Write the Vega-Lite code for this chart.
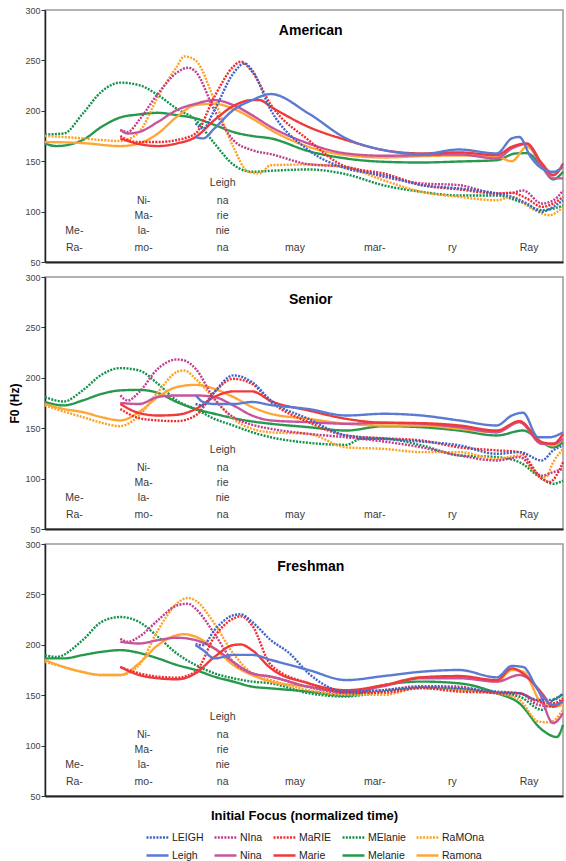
{
  "$schema": "https://vega.github.io/schema/vega-lite/v6.json",
  "padding": {"left": 8, "top": 5, "right": 0, "bottom": 0},
  "config": {
    "font": "Liberation Sans",
    "view": {"stroke": "#999", "strokeWidth": 1.5},
    "axis": {"grid": false}
  },
  "datasets": {
    "bounds": [{"t": 1}, {"t": 2}, {"t": 3}, {"t": 4}, {"t": 5}, {"t": 6}],
    "titles": [{"panel": "American", "t": 3.53, "f0": 279}, {"panel": "Senior", "t": 3.53, "f0": 277}, {"panel": "Freshman", "t": 3.53, "f0": 277}],
    "syl": [
      {"t": 0.39, "f0": 80.5, "text": "Me-"}, {"t": 0.39, "f0": 64, "text": "Ra-"},
      {"t": 1.31, "f0": 110.7, "text": "Ni-"}, {"t": 1.31, "f0": 95.3, "text": "Ma-"}, {"t": 1.31, "f0": 80.5, "text": "la-"}, {"t": 1.31, "f0": 64, "text": "mo-"},
      {"t": 2.36, "f0": 128, "text": "Leigh"}, {"t": 2.36, "f0": 110.7, "text": "na"}, {"t": 2.36, "f0": 95.3, "text": "rie"}, {"t": 2.36, "f0": 80.5, "text": "nie"}, {"t": 2.36, "f0": 64, "text": "na"},
      {"t": 3.32, "f0": 64, "text": "may"}, {"t": 4.38, "f0": 64, "text": "mar-"}, {"t": 5.41, "f0": 64, "text": "ry"}, {"t": 6.43, "f0": 64, "text": "Ray"}
    ],
    "f0": [
      {"panel":"American","word":"MElanie","t":0,"f0":176.5},{"panel":"American","word":"MElanie","t":0.25,"f0":177.5},{"panel":"American","word":"MElanie","t":0.5,"f0":197},{"panel":"American","word":"MElanie","t":0.75,"f0":219},{"panel":"American","word":"MElanie","t":1,"f0":228},{"panel":"American","word":"MElanie","t":1.25,"f0":225.5},{"panel":"American","word":"MElanie","t":1.5,"f0":215.6},{"panel":"American","word":"MElanie","t":1.75,"f0":202},{"panel":"American","word":"MElanie","t":2,"f0":191},{"panel":"American","word":"MElanie","t":2.25,"f0":167.6},{"panel":"American","word":"MElanie","t":2.5,"f0":146.7},{"panel":"American","word":"MElanie","t":2.75,"f0":139.5},{"panel":"American","word":"MElanie","t":3,"f0":140.5},{"panel":"American","word":"MElanie","t":3.5,"f0":141.8},{"panel":"American","word":"MElanie","t":4,"f0":137},{"panel":"American","word":"MElanie","t":4.5,"f0":126},{"panel":"American","word":"MElanie","t":5,"f0":119.6},{"panel":"American","word":"MElanie","t":5.5,"f0":116},{"panel":"American","word":"MElanie","t":6,"f0":116},{"panel":"American","word":"MElanie","t":6.3,"f0":110},{"panel":"American","word":"MElanie","t":6.6,"f0":101.5},{"panel":"American","word":"MElanie","t":6.8,"f0":104},{"panel":"American","word":"MElanie","t":6.88,"f0":106},
      {"panel":"American","word":"Melanie","t":0,"f0":167.6},{"panel":"American","word":"Melanie","t":0.15,"f0":165},{"panel":"American","word":"Melanie","t":0.5,"f0":171},{"panel":"American","word":"Melanie","t":0.75,"f0":184},{"panel":"American","word":"Melanie","t":1,"f0":193.4},{"panel":"American","word":"Melanie","t":1.25,"f0":196.4},{"panel":"American","word":"Melanie","t":1.5,"f0":198},{"panel":"American","word":"Melanie","t":1.75,"f0":195.7},{"panel":"American","word":"Melanie","t":2,"f0":192.5},{"panel":"American","word":"Melanie","t":2.25,"f0":186},{"panel":"American","word":"Melanie","t":2.5,"f0":179},{"panel":"American","word":"Melanie","t":2.75,"f0":175},{"panel":"American","word":"Melanie","t":3,"f0":172.6},{"panel":"American","word":"Melanie","t":3.5,"f0":160},{"panel":"American","word":"Melanie","t":4,"f0":152.7},{"panel":"American","word":"Melanie","t":4.5,"f0":149.4},{"panel":"American","word":"Melanie","t":5,"f0":148.7},{"panel":"American","word":"Melanie","t":5.5,"f0":149.7},{"panel":"American","word":"Melanie","t":6,"f0":151},{"panel":"American","word":"Melanie","t":6.25,"f0":157.7},{"panel":"American","word":"Melanie","t":6.4,"f0":158},{"panel":"American","word":"Melanie","t":6.6,"f0":144.4},{"panel":"American","word":"Melanie","t":6.75,"f0":132},{"panel":"American","word":"Melanie","t":6.88,"f0":139.5},
      {"panel":"American","word":"RaMOna","t":0,"f0":175},{"panel":"American","word":"RaMOna","t":0.25,"f0":174},{"panel":"American","word":"RaMOna","t":0.5,"f0":172.6},{"panel":"American","word":"RaMOna","t":0.75,"f0":171},{"panel":"American","word":"RaMOna","t":1,"f0":170},{"panel":"American","word":"RaMOna","t":1.25,"f0":179},{"panel":"American","word":"RaMOna","t":1.5,"f0":214},{"panel":"American","word":"RaMOna","t":1.75,"f0":243.7},{"panel":"American","word":"RaMOna","t":1.85,"f0":254},{"panel":"American","word":"RaMOna","t":2,"f0":250},{"panel":"American","word":"RaMOna","t":2.25,"f0":210.6},{"panel":"American","word":"RaMOna","t":2.5,"f0":164.3},{"panel":"American","word":"RaMOna","t":2.7,"f0":139.5},{"panel":"American","word":"RaMOna","t":2.85,"f0":138},{"panel":"American","word":"RaMOna","t":3,"f0":146},{"panel":"American","word":"RaMOna","t":3.5,"f0":146.7},{"panel":"American","word":"RaMOna","t":4,"f0":143.8},{"panel":"American","word":"RaMOna","t":4.5,"f0":131},{"panel":"American","word":"RaMOna","t":5,"f0":119.6},{"panel":"American","word":"RaMOna","t":5.5,"f0":114.6},{"panel":"American","word":"RaMOna","t":6,"f0":111.3},{"panel":"American","word":"RaMOna","t":6.2,"f0":114.6},{"panel":"American","word":"RaMOna","t":6.5,"f0":101.5},{"panel":"American","word":"RaMOna","t":6.7,"f0":96.4},{"panel":"American","word":"RaMOna","t":6.88,"f0":104.7},
      {"panel":"American","word":"Ramona","t":0,"f0":169},{"panel":"American","word":"Ramona","t":0.5,"f0":168},{"panel":"American","word":"Ramona","t":1,"f0":165},{"panel":"American","word":"Ramona","t":1.25,"f0":167.6},{"panel":"American","word":"Ramona","t":1.5,"f0":177.5},{"panel":"American","word":"Ramona","t":1.75,"f0":194},{"panel":"American","word":"Ramona","t":2,"f0":205.7},{"panel":"American","word":"Ramona","t":2.25,"f0":207},{"panel":"American","word":"Ramona","t":2.5,"f0":202},{"panel":"American","word":"Ramona","t":2.75,"f0":192.5},{"panel":"American","word":"Ramona","t":3,"f0":181},{"panel":"American","word":"Ramona","t":3.5,"f0":164.3},{"panel":"American","word":"Ramona","t":4,"f0":156},{"panel":"American","word":"Ramona","t":4.5,"f0":153.7},{"panel":"American","word":"Ramona","t":5,"f0":155},{"panel":"American","word":"Ramona","t":5.5,"f0":155.7},{"panel":"American","word":"Ramona","t":6,"f0":154.4},{"panel":"American","word":"Ramona","t":6.2,"f0":150},{"panel":"American","word":"Ramona","t":6.4,"f0":164.3},{"panel":"American","word":"Ramona","t":6.6,"f0":147.7},{"panel":"American","word":"Ramona","t":6.75,"f0":137.8},{"panel":"American","word":"Ramona","t":6.88,"f0":144.4},
      {"panel":"American","word":"NIna","t":1,"f0":181},{"panel":"American","word":"NIna","t":1.1,"f0":179},{"panel":"American","word":"NIna","t":1.25,"f0":190.8},{"panel":"American","word":"NIna","t":1.5,"f0":217},{"panel":"American","word":"NIna","t":1.75,"f0":237.8},{"panel":"American","word":"NIna","t":1.9,"f0":242.7},{"panel":"American","word":"NIna","t":2,"f0":238.8},{"panel":"American","word":"NIna","t":2.25,"f0":200.7},{"panel":"American","word":"NIna","t":2.5,"f0":171},{"panel":"American","word":"NIna","t":2.75,"f0":161},{"panel":"American","word":"NIna","t":3,"f0":157},{"panel":"American","word":"NIna","t":3.5,"f0":147},{"panel":"American","word":"NIna","t":4,"f0":144.4},{"panel":"American","word":"NIna","t":4.5,"f0":134.5},{"panel":"American","word":"NIna","t":5,"f0":128},{"panel":"American","word":"NIna","t":5.5,"f0":126.3},{"panel":"American","word":"NIna","t":6,"f0":118},{"panel":"American","word":"NIna","t":6.2,"f0":118.6},{"panel":"American","word":"NIna","t":6.35,"f0":121},{"panel":"American","word":"NIna","t":6.6,"f0":108},{"panel":"American","word":"NIna","t":6.75,"f0":111},{"panel":"American","word":"NIna","t":6.88,"f0":121},
      {"panel":"American","word":"Nina","t":1,"f0":181},{"panel":"American","word":"Nina","t":1.1,"f0":177.5},{"panel":"American","word":"Nina","t":1.25,"f0":179},{"panel":"American","word":"Nina","t":1.5,"f0":189},{"panel":"American","word":"Nina","t":1.75,"f0":200.7},{"panel":"American","word":"Nina","t":2,"f0":207},{"panel":"American","word":"Nina","t":2.25,"f0":210.6},{"panel":"American","word":"Nina","t":2.5,"f0":205.7},{"panel":"American","word":"Nina","t":2.75,"f0":195.7},{"panel":"American","word":"Nina","t":3,"f0":184},{"panel":"American","word":"Nina","t":3.5,"f0":167.6},{"panel":"American","word":"Nina","t":4,"f0":157.7},{"panel":"American","word":"Nina","t":4.5,"f0":155.4},{"panel":"American","word":"Nina","t":5,"f0":156},{"panel":"American","word":"Nina","t":5.5,"f0":156.7},{"panel":"American","word":"Nina","t":6,"f0":152.7},{"panel":"American","word":"Nina","t":6.2,"f0":162.6},{"panel":"American","word":"Nina","t":6.4,"f0":167},{"panel":"American","word":"Nina","t":6.6,"f0":144.4},{"panel":"American","word":"Nina","t":6.75,"f0":133},{"panel":"American","word":"Nina","t":6.88,"f0":133},
      {"panel":"American","word":"MaRIE","t":1,"f0":175},{"panel":"American","word":"MaRIE","t":1.1,"f0":171},{"panel":"American","word":"MaRIE","t":1.25,"f0":169},{"panel":"American","word":"MaRIE","t":1.5,"f0":169},{"panel":"American","word":"MaRIE","t":1.75,"f0":171},{"panel":"American","word":"MaRIE","t":2,"f0":177.5},{"panel":"American","word":"MaRIE","t":2.25,"f0":214},{"panel":"American","word":"MaRIE","t":2.5,"f0":243.7},{"panel":"American","word":"MaRIE","t":2.6,"f0":248.7},{"panel":"American","word":"MaRIE","t":2.75,"f0":238.8},{"panel":"American","word":"MaRIE","t":3,"f0":206},{"panel":"American","word":"MaRIE","t":3.5,"f0":171},{"panel":"American","word":"MaRIE","t":4,"f0":144.4},{"panel":"American","word":"MaRIE","t":4.5,"f0":137.8},{"panel":"American","word":"MaRIE","t":5,"f0":126.3},{"panel":"American","word":"MaRIE","t":5.5,"f0":122},{"panel":"American","word":"MaRIE","t":6,"f0":118},{"panel":"American","word":"MaRIE","t":6.2,"f0":118.6},{"panel":"American","word":"MaRIE","t":6.4,"f0":113},{"panel":"American","word":"MaRIE","t":6.6,"f0":104.7},{"panel":"American","word":"MaRIE","t":6.75,"f0":108},{"panel":"American","word":"MaRIE","t":6.88,"f0":114.6},
      {"panel":"American","word":"Marie","t":1,"f0":172.6},{"panel":"American","word":"Marie","t":1.25,"f0":167},{"panel":"American","word":"Marie","t":1.5,"f0":165},{"panel":"American","word":"Marie","t":1.75,"f0":167.6},{"panel":"American","word":"Marie","t":2,"f0":174},{"panel":"American","word":"Marie","t":2.25,"f0":190.8},{"panel":"American","word":"Marie","t":2.5,"f0":204.7},{"panel":"American","word":"Marie","t":2.75,"f0":210.6},{"panel":"American","word":"Marie","t":2.85,"f0":210.6},{"panel":"American","word":"Marie","t":3,"f0":204},{"panel":"American","word":"Marie","t":3.5,"f0":184},{"panel":"American","word":"Marie","t":4,"f0":171},{"panel":"American","word":"Marie","t":4.5,"f0":161},{"panel":"American","word":"Marie","t":5,"f0":157.7},{"panel":"American","word":"Marie","t":5.5,"f0":158.7},{"panel":"American","word":"Marie","t":6,"f0":156},{"panel":"American","word":"Marie","t":6.2,"f0":164.3},{"panel":"American","word":"Marie","t":6.4,"f0":167.6},{"panel":"American","word":"Marie","t":6.6,"f0":147.7},{"panel":"American","word":"Marie","t":6.75,"f0":136},{"panel":"American","word":"Marie","t":6.88,"f0":147.7},
      {"panel":"American","word":"LEIGH","t":2,"f0":187.5},{"panel":"American","word":"LEIGH","t":2.1,"f0":182.5},{"panel":"American","word":"LEIGH","t":2.25,"f0":200.7},{"panel":"American","word":"LEIGH","t":2.5,"f0":237},{"panel":"American","word":"LEIGH","t":2.65,"f0":247},{"panel":"American","word":"LEIGH","t":2.75,"f0":240.4},{"panel":"American","word":"LEIGH","t":3,"f0":200.7},{"panel":"American","word":"LEIGH","t":3.5,"f0":161},{"panel":"American","word":"LEIGH","t":4,"f0":142.8},{"panel":"American","word":"LEIGH","t":4.5,"f0":136},{"panel":"American","word":"LEIGH","t":5,"f0":126.3},{"panel":"American","word":"LEIGH","t":5.5,"f0":123},{"panel":"American","word":"LEIGH","t":6,"f0":118},{"panel":"American","word":"LEIGH","t":6.2,"f0":114.6},{"panel":"American","word":"LEIGH","t":6.4,"f0":108},{"panel":"American","word":"LEIGH","t":6.6,"f0":99.8},{"panel":"American","word":"LEIGH","t":6.75,"f0":104.7},{"panel":"American","word":"LEIGH","t":6.88,"f0":111.3},
      {"panel":"American","word":"Leigh","t":2,"f0":174},{"panel":"American","word":"Leigh","t":2.1,"f0":172.6},{"panel":"American","word":"Leigh","t":2.25,"f0":182.5},{"panel":"American","word":"Leigh","t":2.5,"f0":200.7},{"panel":"American","word":"Leigh","t":2.75,"f0":210.6},{"panel":"American","word":"Leigh","t":3,"f0":216.6},{"panel":"American","word":"Leigh","t":3.5,"f0":197.4},{"panel":"American","word":"Leigh","t":4,"f0":172.6},{"panel":"American","word":"Leigh","t":4.5,"f0":161},{"panel":"American","word":"Leigh","t":5,"f0":157},{"panel":"American","word":"Leigh","t":5.5,"f0":161.6},{"panel":"American","word":"Leigh","t":6,"f0":157.7},{"panel":"American","word":"Leigh","t":6.2,"f0":172.6},{"panel":"American","word":"Leigh","t":6.3,"f0":174},{"panel":"American","word":"Leigh","t":6.45,"f0":154.4},{"panel":"American","word":"Leigh","t":6.6,"f0":142.8},{"panel":"American","word":"Leigh","t":6.75,"f0":139.5},{"panel":"American","word":"Leigh","t":6.88,"f0":144.4},

      {"panel":"Senior","word":"MElanie","t":0,"f0":180.8},{"panel":"Senior","word":"MElanie","t":0.25,"f0":176.5},{"panel":"Senior","word":"MElanie","t":0.5,"f0":187.5},{"panel":"Senior","word":"MElanie","t":0.75,"f0":203},{"panel":"Senior","word":"MElanie","t":1,"f0":209.6},{"panel":"Senior","word":"MElanie","t":1.25,"f0":207.3},{"panel":"Senior","word":"MElanie","t":1.5,"f0":194},{"panel":"Senior","word":"MElanie","t":1.75,"f0":177.5},{"panel":"Senior","word":"MElanie","t":2,"f0":169},{"panel":"Senior","word":"MElanie","t":2.25,"f0":159.3},{"panel":"Senior","word":"MElanie","t":2.5,"f0":152.7},{"panel":"Senior","word":"MElanie","t":2.75,"f0":146},{"panel":"Senior","word":"MElanie","t":3,"f0":141},{"panel":"Senior","word":"MElanie","t":3.5,"f0":135.5},{"panel":"Senior","word":"MElanie","t":4,"f0":133.5},{"panel":"Senior","word":"MElanie","t":4.2,"f0":139.5},{"panel":"Senior","word":"MElanie","t":4.5,"f0":139.5},{"panel":"Senior","word":"MElanie","t":5,"f0":133},{"panel":"Senior","word":"MElanie","t":5.5,"f0":123},{"panel":"Senior","word":"MElanie","t":6,"f0":121.3},{"panel":"Senior","word":"MElanie","t":6.3,"f0":116.3},{"panel":"Senior","word":"MElanie","t":6.6,"f0":100},{"panel":"Senior","word":"MElanie","t":6.75,"f0":94.8},{"panel":"Senior","word":"MElanie","t":6.88,"f0":98},
      {"panel":"Senior","word":"Melanie","t":0,"f0":176},{"panel":"Senior","word":"Melanie","t":0.25,"f0":172.6},{"panel":"Senior","word":"Melanie","t":0.5,"f0":177.5},{"panel":"Senior","word":"Melanie","t":0.75,"f0":184},{"panel":"Senior","word":"Melanie","t":1,"f0":187.5},{"panel":"Senior","word":"Melanie","t":1.25,"f0":188},{"panel":"Senior","word":"Melanie","t":1.5,"f0":185},{"panel":"Senior","word":"Melanie","t":1.75,"f0":176},{"panel":"Senior","word":"Melanie","t":2,"f0":169},{"panel":"Senior","word":"Melanie","t":2.25,"f0":164.3},{"panel":"Senior","word":"Melanie","t":2.5,"f0":160},{"panel":"Senior","word":"Melanie","t":2.75,"f0":156.7},{"panel":"Senior","word":"Melanie","t":3,"f0":154.4},{"panel":"Senior","word":"Melanie","t":3.5,"f0":151},{"panel":"Senior","word":"Melanie","t":4,"f0":147.7},{"panel":"Senior","word":"Melanie","t":4.5,"f0":152},{"panel":"Senior","word":"Melanie","t":5,"f0":151},{"panel":"Senior","word":"Melanie","t":5.5,"f0":147.7},{"panel":"Senior","word":"Melanie","t":6,"f0":142.8},{"panel":"Senior","word":"Melanie","t":6.35,"f0":147.7},{"panel":"Senior","word":"Melanie","t":6.6,"f0":136},{"panel":"Senior","word":"Melanie","t":6.75,"f0":131},{"panel":"Senior","word":"Melanie","t":6.88,"f0":136},
      {"panel":"Senior","word":"RaMOna","t":0,"f0":172.6},{"panel":"Senior","word":"RaMOna","t":0.25,"f0":166.6},{"panel":"Senior","word":"RaMOna","t":0.5,"f0":161},{"panel":"Senior","word":"RaMOna","t":0.75,"f0":155.4},{"panel":"Senior","word":"RaMOna","t":1,"f0":152},{"panel":"Senior","word":"RaMOna","t":1.1,"f0":154.4},{"panel":"Senior","word":"RaMOna","t":1.25,"f0":162.6},{"panel":"Senior","word":"RaMOna","t":1.5,"f0":185.8},{"panel":"Senior","word":"RaMOna","t":1.75,"f0":205.7},{"panel":"Senior","word":"RaMOna","t":1.85,"f0":207.3},{"panel":"Senior","word":"RaMOna","t":2,"f0":199},{"panel":"Senior","word":"RaMOna","t":2.25,"f0":179},{"panel":"Senior","word":"RaMOna","t":2.5,"f0":159.3},{"panel":"Senior","word":"RaMOna","t":2.75,"f0":149.4},{"panel":"Senior","word":"RaMOna","t":3,"f0":146},{"panel":"Senior","word":"RaMOna","t":3.5,"f0":144.4},{"panel":"Senior","word":"RaMOna","t":4,"f0":131},{"panel":"Senior","word":"RaMOna","t":4.5,"f0":129.5},{"panel":"Senior","word":"RaMOna","t":5,"f0":126.3},{"panel":"Senior","word":"RaMOna","t":5.5,"f0":126.3},{"panel":"Senior","word":"RaMOna","t":6,"f0":119.6},{"panel":"Senior","word":"RaMOna","t":6.3,"f0":123},{"panel":"Senior","word":"RaMOna","t":6.5,"f0":106.4},{"panel":"Senior","word":"RaMOna","t":6.65,"f0":101.4},{"panel":"Senior","word":"RaMOna","t":6.75,"f0":116.3},{"panel":"Senior","word":"RaMOna","t":6.88,"f0":129.5},
      {"panel":"Senior","word":"Ramona","t":0,"f0":174},{"panel":"Senior","word":"Ramona","t":0.25,"f0":169},{"panel":"Senior","word":"Ramona","t":0.5,"f0":166},{"panel":"Senior","word":"Ramona","t":0.75,"f0":161},{"panel":"Senior","word":"Ramona","t":1,"f0":157.7},{"panel":"Senior","word":"Ramona","t":1.25,"f0":166},{"panel":"Senior","word":"Ramona","t":1.5,"f0":181},{"panel":"Senior","word":"Ramona","t":1.75,"f0":190.8},{"panel":"Senior","word":"Ramona","t":2,"f0":193},{"panel":"Senior","word":"Ramona","t":2.25,"f0":189},{"panel":"Senior","word":"Ramona","t":2.5,"f0":181},{"panel":"Senior","word":"Ramona","t":2.75,"f0":171},{"panel":"Senior","word":"Ramona","t":3,"f0":164.3},{"panel":"Senior","word":"Ramona","t":3.5,"f0":159.3},{"panel":"Senior","word":"Ramona","t":4,"f0":154.4},{"panel":"Senior","word":"Ramona","t":4.5,"f0":152.7},{"panel":"Senior","word":"Ramona","t":5,"f0":152.7},{"panel":"Senior","word":"Ramona","t":5.5,"f0":149.4},{"panel":"Senior","word":"Ramona","t":6,"f0":146},{"panel":"Senior","word":"Ramona","t":6.3,"f0":156},{"panel":"Senior","word":"Ramona","t":6.6,"f0":136},{"panel":"Senior","word":"Ramona","t":6.75,"f0":133},{"panel":"Senior","word":"Ramona","t":6.88,"f0":139.5},
      {"panel":"Senior","word":"NIna","t":1,"f0":182.5},{"panel":"Senior","word":"NIna","t":1.1,"f0":177.5},{"panel":"Senior","word":"NIna","t":1.25,"f0":185.8},{"panel":"Senior","word":"NIna","t":1.5,"f0":209},{"panel":"Senior","word":"NIna","t":1.75,"f0":218.2},{"panel":"Senior","word":"NIna","t":1.85,"f0":217.2},{"panel":"Senior","word":"NIna","t":2,"f0":209},{"panel":"Senior","word":"NIna","t":2.25,"f0":179},{"panel":"Senior","word":"NIna","t":2.5,"f0":161},{"panel":"Senior","word":"NIna","t":2.75,"f0":153.4},{"panel":"Senior","word":"NIna","t":3,"f0":149.4},{"panel":"Senior","word":"NIna","t":3.5,"f0":144.4},{"panel":"Senior","word":"NIna","t":4,"f0":141},{"panel":"Senior","word":"NIna","t":4.5,"f0":136.8},{"panel":"Senior","word":"NIna","t":5,"f0":131},{"panel":"Senior","word":"NIna","t":5.5,"f0":123},{"panel":"Senior","word":"NIna","t":6,"f0":118},{"panel":"Senior","word":"NIna","t":6.3,"f0":121.3},{"panel":"Senior","word":"NIna","t":6.6,"f0":103},{"panel":"Senior","word":"NIna","t":6.75,"f0":106.4},{"panel":"Senior","word":"NIna","t":6.88,"f0":109.7},
      {"panel":"Senior","word":"Nina","t":1,"f0":175},{"panel":"Senior","word":"Nina","t":1.25,"f0":174},{"panel":"Senior","word":"Nina","t":1.5,"f0":181},{"panel":"Senior","word":"Nina","t":1.75,"f0":182.5},{"panel":"Senior","word":"Nina","t":2,"f0":182.5},{"panel":"Senior","word":"Nina","t":2.25,"f0":181},{"panel":"Senior","word":"Nina","t":2.5,"f0":172.6},{"panel":"Senior","word":"Nina","t":2.75,"f0":162.6},{"panel":"Senior","word":"Nina","t":3,"f0":157.7},{"panel":"Senior","word":"Nina","t":3.5,"f0":156},{"panel":"Senior","word":"Nina","t":4,"f0":154.4},{"panel":"Senior","word":"Nina","t":4.5,"f0":155.4},{"panel":"Senior","word":"Nina","t":5,"f0":154.4},{"panel":"Senior","word":"Nina","t":5.5,"f0":151},{"panel":"Senior","word":"Nina","t":6,"f0":146},{"panel":"Senior","word":"Nina","t":6.3,"f0":156},{"panel":"Senior","word":"Nina","t":6.6,"f0":134.5},{"panel":"Senior","word":"Nina","t":6.75,"f0":134.5},{"panel":"Senior","word":"Nina","t":6.88,"f0":139.5},
      {"panel":"Senior","word":"MaRIE","t":1,"f0":169},{"panel":"Senior","word":"MaRIE","t":1.25,"f0":160},{"panel":"Senior","word":"MaRIE","t":1.5,"f0":157.7},{"panel":"Senior","word":"MaRIE","t":1.75,"f0":157},{"panel":"Senior","word":"MaRIE","t":2,"f0":162.6},{"panel":"Senior","word":"MaRIE","t":2.25,"f0":185.8},{"panel":"Senior","word":"MaRIE","t":2.5,"f0":199},{"panel":"Senior","word":"MaRIE","t":2.75,"f0":194},{"panel":"Senior","word":"MaRIE","t":3,"f0":176},{"panel":"Senior","word":"MaRIE","t":3.5,"f0":156},{"panel":"Senior","word":"MaRIE","t":4,"f0":142.8},{"panel":"Senior","word":"MaRIE","t":4.5,"f0":140},{"panel":"Senior","word":"MaRIE","t":5,"f0":137.8},{"panel":"Senior","word":"MaRIE","t":5.5,"f0":131},{"panel":"Senior","word":"MaRIE","t":6,"f0":128},{"panel":"Senior","word":"MaRIE","t":6.3,"f0":126.3},{"panel":"Senior","word":"MaRIE","t":6.6,"f0":100},{"panel":"Senior","word":"MaRIE","t":6.7,"f0":96.6},{"panel":"Senior","word":"MaRIE","t":6.88,"f0":116.3},
      {"panel":"Senior","word":"Marie","t":1,"f0":174},{"panel":"Senior","word":"Marie","t":1.25,"f0":165},{"panel":"Senior","word":"Marie","t":1.5,"f0":162.6},{"panel":"Senior","word":"Marie","t":1.75,"f0":163.3},{"panel":"Senior","word":"Marie","t":2,"f0":169},{"panel":"Senior","word":"Marie","t":2.25,"f0":181},{"panel":"Senior","word":"Marie","t":2.5,"f0":186.5},{"panel":"Senior","word":"Marie","t":2.75,"f0":186.5},{"panel":"Senior","word":"Marie","t":3,"f0":177},{"panel":"Senior","word":"Marie","t":3.5,"f0":167.6},{"panel":"Senior","word":"Marie","t":4,"f0":159.3},{"panel":"Senior","word":"Marie","t":4.5,"f0":155.4},{"panel":"Senior","word":"Marie","t":5,"f0":155},{"panel":"Senior","word":"Marie","t":5.5,"f0":152.7},{"panel":"Senior","word":"Marie","t":6,"f0":147.7},{"panel":"Senior","word":"Marie","t":6.3,"f0":157},{"panel":"Senior","word":"Marie","t":6.6,"f0":136},{"panel":"Senior","word":"Marie","t":6.75,"f0":134.5},{"panel":"Senior","word":"Marie","t":6.88,"f0":144.4},
      {"panel":"Senior","word":"LEIGH","t":2,"f0":174},{"panel":"Senior","word":"LEIGH","t":2.1,"f0":172.6},{"panel":"Senior","word":"LEIGH","t":2.25,"f0":185.8},{"panel":"Senior","word":"LEIGH","t":2.5,"f0":202.4},{"panel":"Senior","word":"LEIGH","t":2.75,"f0":195.7},{"panel":"Senior","word":"LEIGH","t":3,"f0":177.5},{"panel":"Senior","word":"LEIGH","t":3.5,"f0":159.3},{"panel":"Senior","word":"LEIGH","t":4,"f0":142.8},{"panel":"Senior","word":"LEIGH","t":4.5,"f0":139.5},{"panel":"Senior","word":"LEIGH","t":5,"f0":136.8},{"panel":"Senior","word":"LEIGH","t":5.5,"f0":133},{"panel":"Senior","word":"LEIGH","t":6,"f0":124.6},{"panel":"Senior","word":"LEIGH","t":6.3,"f0":126.3},{"panel":"Senior","word":"LEIGH","t":6.6,"f0":118},{"panel":"Senior","word":"LEIGH","t":6.75,"f0":128},{"panel":"Senior","word":"LEIGH","t":6.88,"f0":133},
      {"panel":"Senior","word":"Leigh","t":2,"f0":183},{"panel":"Senior","word":"Leigh","t":2.1,"f0":176},{"panel":"Senior","word":"Leigh","t":2.25,"f0":174},{"panel":"Senior","word":"Leigh","t":2.5,"f0":174},{"panel":"Senior","word":"Leigh","t":2.75,"f0":176},{"panel":"Senior","word":"Leigh","t":3,"f0":173},{"panel":"Senior","word":"Leigh","t":3.5,"f0":169},{"panel":"Senior","word":"Leigh","t":4,"f0":162.6},{"panel":"Senior","word":"Leigh","t":4.5,"f0":164.3},{"panel":"Senior","word":"Leigh","t":5,"f0":162.6},{"panel":"Senior","word":"Leigh","t":5.5,"f0":157.7},{"panel":"Senior","word":"Leigh","t":6,"f0":152.7},{"panel":"Senior","word":"Leigh","t":6.2,"f0":162.6},{"panel":"Senior","word":"Leigh","t":6.35,"f0":165.3},{"panel":"Senior","word":"Leigh","t":6.55,"f0":141},{"panel":"Senior","word":"Leigh","t":6.7,"f0":141},{"panel":"Senior","word":"Leigh","t":6.88,"f0":146},

      {"panel":"Freshman","word":"MElanie","t":0,"f0":189.8},{"panel":"Freshman","word":"MElanie","t":0.15,"f0":188},{"panel":"Freshman","word":"MElanie","t":0.5,"f0":204.6},{"panel":"Freshman","word":"MElanie","t":0.75,"f0":222.7},{"panel":"Freshman","word":"MElanie","t":1,"f0":227.6},{"panel":"Freshman","word":"MElanie","t":1.25,"f0":222.7},{"panel":"Freshman","word":"MElanie","t":1.5,"f0":207.9},{"panel":"Freshman","word":"MElanie","t":1.75,"f0":191.4},{"panel":"Freshman","word":"MElanie","t":2,"f0":180},{"panel":"Freshman","word":"MElanie","t":2.25,"f0":171.7},{"panel":"Freshman","word":"MElanie","t":2.5,"f0":166.8},{"panel":"Freshman","word":"MElanie","t":2.75,"f0":163.5},{"panel":"Freshman","word":"MElanie","t":3,"f0":161.8},{"panel":"Freshman","word":"MElanie","t":3.5,"f0":152},{"panel":"Freshman","word":"MElanie","t":4,"f0":148.7},{"panel":"Freshman","word":"MElanie","t":4.5,"f0":153.6},{"panel":"Freshman","word":"MElanie","t":5,"f0":157},{"panel":"Freshman","word":"MElanie","t":5.5,"f0":156},{"panel":"Freshman","word":"MElanie","t":6,"f0":152},{"panel":"Freshman","word":"MElanie","t":6.3,"f0":148.7},{"panel":"Freshman","word":"MElanie","t":6.6,"f0":135.5},{"panel":"Freshman","word":"MElanie","t":6.75,"f0":145.4},{"panel":"Freshman","word":"MElanie","t":6.88,"f0":150.3},
      {"panel":"Freshman","word":"Melanie","t":0,"f0":186.5},{"panel":"Freshman","word":"Melanie","t":0.25,"f0":186.5},{"panel":"Freshman","word":"Melanie","t":0.5,"f0":189.8},{"panel":"Freshman","word":"Melanie","t":0.75,"f0":193},{"panel":"Freshman","word":"Melanie","t":1,"f0":194.7},{"panel":"Freshman","word":"Melanie","t":1.25,"f0":192},{"panel":"Freshman","word":"Melanie","t":1.5,"f0":186.5},{"panel":"Freshman","word":"Melanie","t":1.75,"f0":180},{"panel":"Freshman","word":"Melanie","t":2,"f0":175},{"panel":"Freshman","word":"Melanie","t":2.25,"f0":168.4},{"panel":"Freshman","word":"Melanie","t":2.5,"f0":163.5},{"panel":"Freshman","word":"Melanie","t":2.75,"f0":158.5},{"panel":"Freshman","word":"Melanie","t":3,"f0":156.8},{"panel":"Freshman","word":"Melanie","t":3.5,"f0":153.6},{"panel":"Freshman","word":"Melanie","t":4,"f0":149.3},{"panel":"Freshman","word":"Melanie","t":4.5,"f0":160},{"panel":"Freshman","word":"Melanie","t":5,"f0":163.5},{"panel":"Freshman","word":"Melanie","t":5.5,"f0":161.8},{"panel":"Freshman","word":"Melanie","t":6,"f0":152},{"panel":"Freshman","word":"Melanie","t":6.3,"f0":142},{"panel":"Freshman","word":"Melanie","t":6.6,"f0":115.8},{"panel":"Freshman","word":"Melanie","t":6.8,"f0":108.5},{"panel":"Freshman","word":"Melanie","t":6.88,"f0":120.6},
      {"panel":"Freshman","word":"RaMOna","t":0,"f0":183},{"panel":"Freshman","word":"RaMOna","t":0.25,"f0":178},{"panel":"Freshman","word":"RaMOna","t":0.5,"f0":173},{"panel":"Freshman","word":"RaMOna","t":0.75,"f0":170},{"panel":"Freshman","word":"RaMOna","t":1,"f0":170},{"panel":"Freshman","word":"RaMOna","t":1.25,"f0":180},{"panel":"Freshman","word":"RaMOna","t":1.5,"f0":214.5},{"panel":"Freshman","word":"RaMOna","t":1.75,"f0":240.8},{"panel":"Freshman","word":"RaMOna","t":1.9,"f0":246.4},{"panel":"Freshman","word":"RaMOna","t":2,"f0":244},{"panel":"Freshman","word":"RaMOna","t":2.25,"f0":221},{"panel":"Freshman","word":"RaMOna","t":2.5,"f0":191.4},{"panel":"Freshman","word":"RaMOna","t":2.75,"f0":171.7},{"panel":"Freshman","word":"RaMOna","t":3,"f0":165},{"panel":"Freshman","word":"RaMOna","t":3.5,"f0":155},{"panel":"Freshman","word":"RaMOna","t":4,"f0":150.3},{"panel":"Freshman","word":"RaMOna","t":4.5,"f0":150.3},{"panel":"Freshman","word":"RaMOna","t":5,"f0":158},{"panel":"Freshman","word":"RaMOna","t":5.5,"f0":155},{"panel":"Freshman","word":"RaMOna","t":6,"f0":152},{"panel":"Freshman","word":"RaMOna","t":6.3,"f0":145.4},{"panel":"Freshman","word":"RaMOna","t":6.55,"f0":124},{"panel":"Freshman","word":"RaMOna","t":6.7,"f0":123},{"panel":"Freshman","word":"RaMOna","t":6.88,"f0":135.5},
      {"panel":"Freshman","word":"Ramona","t":0,"f0":184.8},{"panel":"Freshman","word":"Ramona","t":0.25,"f0":178},{"panel":"Freshman","word":"Ramona","t":0.5,"f0":173},{"panel":"Freshman","word":"Ramona","t":0.75,"f0":170},{"panel":"Freshman","word":"Ramona","t":1,"f0":170},{"panel":"Freshman","word":"Ramona","t":1.25,"f0":181.6},{"panel":"Freshman","word":"Ramona","t":1.5,"f0":199.7},{"panel":"Freshman","word":"Ramona","t":1.75,"f0":209.5},{"panel":"Freshman","word":"Ramona","t":1.85,"f0":210.5},{"panel":"Freshman","word":"Ramona","t":2,"f0":208},{"panel":"Freshman","word":"Ramona","t":2.25,"f0":196.4},{"panel":"Freshman","word":"Ramona","t":2.5,"f0":180},{"panel":"Freshman","word":"Ramona","t":2.75,"f0":170},{"panel":"Freshman","word":"Ramona","t":3,"f0":163.5},{"panel":"Freshman","word":"Ramona","t":3.5,"f0":158.5},{"panel":"Freshman","word":"Ramona","t":4,"f0":153.6},{"panel":"Freshman","word":"Ramona","t":4.5,"f0":160},{"panel":"Freshman","word":"Ramona","t":5,"f0":167.7},{"panel":"Freshman","word":"Ramona","t":5.5,"f0":168.4},{"panel":"Freshman","word":"Ramona","t":6,"f0":163.5},{"panel":"Freshman","word":"Ramona","t":6.2,"f0":175},{"panel":"Freshman","word":"Ramona","t":6.35,"f0":173.4},{"panel":"Freshman","word":"Ramona","t":6.6,"f0":142},{"panel":"Freshman","word":"Ramona","t":6.75,"f0":138.8},{"panel":"Freshman","word":"Ramona","t":6.88,"f0":140.4},
      {"panel":"Freshman","word":"NIna","t":1,"f0":206},{"panel":"Freshman","word":"NIna","t":1.1,"f0":203},{"panel":"Freshman","word":"NIna","t":1.25,"f0":208},{"panel":"Freshman","word":"NIna","t":1.5,"f0":224.4},{"panel":"Freshman","word":"NIna","t":1.75,"f0":239},{"panel":"Freshman","word":"NIna","t":1.9,"f0":240.8},{"panel":"Freshman","word":"NIna","t":2,"f0":235.8},{"panel":"Freshman","word":"NIna","t":2.25,"f0":211},{"panel":"Freshman","word":"NIna","t":2.5,"f0":183},{"panel":"Freshman","word":"NIna","t":2.75,"f0":171.7},{"panel":"Freshman","word":"NIna","t":3,"f0":168.4},{"panel":"Freshman","word":"NIna","t":3.5,"f0":158},{"panel":"Freshman","word":"NIna","t":4,"f0":152},{"panel":"Freshman","word":"NIna","t":4.5,"f0":155},{"panel":"Freshman","word":"NIna","t":5,"f0":159},{"panel":"Freshman","word":"NIna","t":5.5,"f0":158.5},{"panel":"Freshman","word":"NIna","t":6,"f0":152},{"panel":"Freshman","word":"NIna","t":6.3,"f0":152},{"panel":"Freshman","word":"NIna","t":6.55,"f0":140.4},{"panel":"Freshman","word":"NIna","t":6.75,"f0":138.8},{"panel":"Freshman","word":"NIna","t":6.88,"f0":143.7},
      {"panel":"Freshman","word":"Nina","t":1,"f0":203},{"panel":"Freshman","word":"Nina","t":1.25,"f0":201.3},{"panel":"Freshman","word":"Nina","t":1.5,"f0":204.6},{"panel":"Freshman","word":"Nina","t":1.75,"f0":207},{"panel":"Freshman","word":"Nina","t":2,"f0":204.6},{"panel":"Freshman","word":"Nina","t":2.25,"f0":196.4},{"panel":"Freshman","word":"Nina","t":2.5,"f0":183},{"panel":"Freshman","word":"Nina","t":2.75,"f0":171.7},{"panel":"Freshman","word":"Nina","t":3,"f0":168.4},{"panel":"Freshman","word":"Nina","t":3.5,"f0":158.5},{"panel":"Freshman","word":"Nina","t":4,"f0":153.6},{"panel":"Freshman","word":"Nina","t":4.5,"f0":159},{"panel":"Freshman","word":"Nina","t":5,"f0":166.8},{"panel":"Freshman","word":"Nina","t":5.5,"f0":166.8},{"panel":"Freshman","word":"Nina","t":6,"f0":163.5},{"panel":"Freshman","word":"Nina","t":6.3,"f0":170},{"panel":"Freshman","word":"Nina","t":6.55,"f0":155},{"panel":"Freshman","word":"Nina","t":6.75,"f0":122.3},{"panel":"Freshman","word":"Nina","t":6.88,"f0":132.2},
      {"panel":"Freshman","word":"MaRIE","t":1,"f0":178},{"panel":"Freshman","word":"MaRIE","t":1.25,"f0":171.7},{"panel":"Freshman","word":"MaRIE","t":1.5,"f0":168.4},{"panel":"Freshman","word":"MaRIE","t":1.75,"f0":167.4},{"panel":"Freshman","word":"MaRIE","t":2,"f0":173.3},{"panel":"Freshman","word":"MaRIE","t":2.25,"f0":208},{"panel":"Freshman","word":"MaRIE","t":2.5,"f0":226},{"panel":"Freshman","word":"MaRIE","t":2.6,"f0":228.3},{"panel":"Freshman","word":"MaRIE","t":2.75,"f0":219.4},{"panel":"Freshman","word":"MaRIE","t":3,"f0":180},{"panel":"Freshman","word":"MaRIE","t":3.5,"f0":161.8},{"panel":"Freshman","word":"MaRIE","t":4,"f0":152.6},{"panel":"Freshman","word":"MaRIE","t":4.5,"f0":152.6},{"panel":"Freshman","word":"MaRIE","t":5,"f0":157},{"panel":"Freshman","word":"MaRIE","t":5.5,"f0":153.6},{"panel":"Freshman","word":"MaRIE","t":6,"f0":152.6},{"panel":"Freshman","word":"MaRIE","t":6.3,"f0":152},{"panel":"Freshman","word":"MaRIE","t":6.55,"f0":143.7},{"panel":"Freshman","word":"MaRIE","t":6.75,"f0":142},{"panel":"Freshman","word":"MaRIE","t":6.88,"f0":147},
      {"panel":"Freshman","word":"Marie","t":1,"f0":178},{"panel":"Freshman","word":"Marie","t":1.25,"f0":170},{"panel":"Freshman","word":"Marie","t":1.5,"f0":166.8},{"panel":"Freshman","word":"Marie","t":1.75,"f0":165.8},{"panel":"Freshman","word":"Marie","t":2,"f0":171.7},{"panel":"Freshman","word":"Marie","t":2.25,"f0":188},{"panel":"Freshman","word":"Marie","t":2.5,"f0":199.7},{"panel":"Freshman","word":"Marie","t":2.6,"f0":200.3},{"panel":"Freshman","word":"Marie","t":2.75,"f0":194.7},{"panel":"Freshman","word":"Marie","t":3,"f0":176.6},{"panel":"Freshman","word":"Marie","t":3.5,"f0":161.8},{"panel":"Freshman","word":"Marie","t":4,"f0":155},{"panel":"Freshman","word":"Marie","t":4.5,"f0":160},{"panel":"Freshman","word":"Marie","t":5,"f0":167.7},{"panel":"Freshman","word":"Marie","t":5.5,"f0":169},{"panel":"Freshman","word":"Marie","t":6,"f0":165},{"panel":"Freshman","word":"Marie","t":6.2,"f0":176.6},{"panel":"Freshman","word":"Marie","t":6.4,"f0":168.4},{"panel":"Freshman","word":"Marie","t":6.6,"f0":152},{"panel":"Freshman","word":"Marie","t":6.75,"f0":138.8},{"panel":"Freshman","word":"Marie","t":6.88,"f0":145.4},
      {"panel":"Freshman","word":"LEIGH","t":2,"f0":200.6},{"panel":"Freshman","word":"LEIGH","t":2.1,"f0":199.7},{"panel":"Freshman","word":"LEIGH","t":2.25,"f0":214.5},{"panel":"Freshman","word":"LEIGH","t":2.5,"f0":229.3},{"panel":"Freshman","word":"LEIGH","t":2.6,"f0":230.3},{"panel":"Freshman","word":"LEIGH","t":2.75,"f0":222.7},{"panel":"Freshman","word":"LEIGH","t":3,"f0":204.6},{"panel":"Freshman","word":"LEIGH","t":3.25,"f0":191.4},{"panel":"Freshman","word":"LEIGH","t":3.5,"f0":171.7},{"panel":"Freshman","word":"LEIGH","t":4,"f0":153.6},{"panel":"Freshman","word":"LEIGH","t":4.5,"f0":155},{"panel":"Freshman","word":"LEIGH","t":5,"f0":158},{"panel":"Freshman","word":"LEIGH","t":5.5,"f0":157},{"panel":"Freshman","word":"LEIGH","t":6,"f0":153.6},{"panel":"Freshman","word":"LEIGH","t":6.3,"f0":152},{"panel":"Freshman","word":"LEIGH","t":6.55,"f0":145.4},{"panel":"Freshman","word":"LEIGH","t":6.75,"f0":145.4},{"panel":"Freshman","word":"LEIGH","t":6.88,"f0":152},
      {"panel":"Freshman","word":"Leigh","t":2,"f0":199.7},{"panel":"Freshman","word":"Leigh","t":2.1,"f0":194.7},{"panel":"Freshman","word":"Leigh","t":2.25,"f0":186.5},{"panel":"Freshman","word":"Leigh","t":2.5,"f0":190},{"panel":"Freshman","word":"Leigh","t":2.75,"f0":190},{"panel":"Freshman","word":"Leigh","t":3,"f0":185},{"panel":"Freshman","word":"Leigh","t":3.5,"f0":175},{"panel":"Freshman","word":"Leigh","t":4,"f0":165},{"panel":"Freshman","word":"Leigh","t":4.5,"f0":169},{"panel":"Freshman","word":"Leigh","t":5,"f0":173.3},{"panel":"Freshman","word":"Leigh","t":5.5,"f0":175},{"panel":"Freshman","word":"Leigh","t":6,"f0":167.7},{"panel":"Freshman","word":"Leigh","t":6.2,"f0":179},{"panel":"Freshman","word":"Leigh","t":6.35,"f0":178},{"panel":"Freshman","word":"Leigh","t":6.55,"f0":155},{"panel":"Freshman","word":"Leigh","t":6.75,"f0":140.4},{"panel":"Freshman","word":"Leigh","t":6.88,"f0":143.7}
    ]
  },
  "spacing": 4,
  "resolve": {
    "scale": {"color": "shared", "strokeDash": "shared", "strokeWidth": "shared"},
    "legend": {"color": "shared", "strokeDash": "shared"}
  },
  "vconcat": [
    {
      "width": 518, "height": 252,
      "encoding": {
        "x": {"field": "t", "type": "quantitative", "scale": {"domain": [0, 6.88], "nice": false, "zero": false},
              "axis": {"labels": false, "ticks": false, "title": null, "domainColor": "#222", "domainWidth": 2, "minExtent": 0}},
        "y": {"field": "f0", "type": "quantitative", "scale": {"domain": [50, 300], "nice": false, "zero": false},
              "axis": {"values": [50, 100, 150, 200, 250, 300], "title": null, "labelFontSize": 9, "labelColor": "#444", "tickSize": 4, "tickColor": "#333", "domainColor": "#222", "domainWidth": 1.5, "labelPadding": 1}}
      },
      "layer": [
        {"data": {"name": "bounds"}, "mark": {"type": "rule", "color": "#8a8a8a", "strokeWidth": 1.2},
         "encoding": {"y": {"datum": 50}, "y2": {"datum": 300}}},
        {"data": {"name": "syl"}, "mark": {"type": "text", "fontSize": 10.5, "color": "#3a3a3a", "baseline": "middle"},
         "encoding": {"text": {"field": "text"}}},
        {"data": {"name": "f0"}, "transform": [{"filter": "datum.panel === 'American'"}],
         "mark": {"type": "line", "interpolate": "monotone", "strokeCap": "butt"},
         "encoding": {
           "color": {"field": "word", "type": "nominal", "sort": null,
             "scale": {"domain": ["LEIGH","NIna","MaRIE","MElanie","RaMOna","Leigh","Nina","Marie","Melanie","Ramona"],
                       "range": ["#3f62c6","#c23b8e","#f22a2e","#12924a","#ffa01f","#5b7ad2","#c8559c","#ef3a3c","#27994d","#ffa638"]},
             "legend": {"title": null, "orient": "none", "legendX": 100, "legendY": 815, "columns": 5, "direction": "horizontal", "symbolType": "stroke", "symbolSize": 484, "symbolStrokeWidth": 1.8, "labelFontSize": 10.5, "labelColor": "#222", "labelOffset": 2, "columnPadding": 5, "rowPadding": 0}},
           "strokeDash": {"field": "word", "type": "nominal",
             "scale": {"domain": ["LEIGH","NIna","MaRIE","MElanie","RaMOna","Leigh","Nina","Marie","Melanie","Ramona"],
                       "range": [[2,1.3],[2,1.3],[2,1.3],[2,1.3],[2,1.3],[1,0],[1,0],[1,0],[1,0],[1,0]]},
             "legend": {"title": null, "orient": "none", "legendX": 100, "legendY": 815, "columns": 5, "direction": "horizontal", "symbolType": "stroke", "symbolSize": 484, "symbolStrokeWidth": 1.8, "labelFontSize": 10.5, "labelColor": "#222", "labelOffset": 2, "columnPadding": 5, "rowPadding": 0}},
           "strokeWidth": {"field": "word", "type": "nominal",
             "scale": {"domain": ["LEIGH","NIna","MaRIE","MElanie","RaMOna","Leigh","Nina","Marie","Melanie","Ramona"],
                       "range": [2.4,2.4,2.4,2.4,2.4,1.1,1.1,1.1,1.1,1.1]},
             "legend": null}
         }},
        {"data": {"name": "titles"}, "transform": [{"filter": "datum.panel === 'American'"}],
         "mark": {"type": "text", "fontSize": 14, "fontWeight": "bold", "color": "#000"},
         "encoding": {"text": {"field": "panel"}}}
      ]
    },
    {
      "width": 518, "height": 252,
      "encoding": {
        "x": {"field": "t", "type": "quantitative", "scale": {"domain": [0, 6.88], "nice": false, "zero": false},
              "axis": {"labels": false, "ticks": false, "title": null, "domainColor": "#222", "domainWidth": 2, "minExtent": 0}},
        "y": {"field": "f0", "type": "quantitative", "scale": {"domain": [50, 300], "nice": false, "zero": false},
              "axis": {"values": [50, 100, 150, 200, 250, 300], "title": "F0 (Hz)", "titleFontSize": 12, "titleFontWeight": "bold", "titleColor": "#000", "titlePadding": 3, "labelFontSize": 9, "labelColor": "#444", "tickSize": 4, "tickColor": "#333", "domainColor": "#222", "domainWidth": 1.5, "labelPadding": 1}}
      },
      "layer": [
        {"data": {"name": "bounds"}, "mark": {"type": "rule", "color": "#8a8a8a", "strokeWidth": 1.2},
         "encoding": {"y": {"datum": 50}, "y2": {"datum": 300}}},
        {"data": {"name": "syl"}, "mark": {"type": "text", "fontSize": 10.5, "color": "#3a3a3a", "baseline": "middle"},
         "encoding": {"text": {"field": "text"}}},
        {"data": {"name": "f0"}, "transform": [{"filter": "datum.panel === 'Senior'"}],
         "mark": {"type": "line", "interpolate": "monotone", "strokeCap": "butt"},
         "encoding": {
           "color": {"field": "word", "type": "nominal", "sort": null,
             "scale": {"domain": ["LEIGH","NIna","MaRIE","MElanie","RaMOna","Leigh","Nina","Marie","Melanie","Ramona"],
                       "range": ["#3f62c6","#c23b8e","#f22a2e","#12924a","#ffa01f","#5b7ad2","#c8559c","#ef3a3c","#27994d","#ffa638"]},
             "legend": {"title": null, "orient": "none", "legendX": 100, "legendY": 815, "columns": 5, "direction": "horizontal", "symbolType": "stroke", "symbolSize": 484, "symbolStrokeWidth": 1.8, "labelFontSize": 10.5, "labelColor": "#222", "labelOffset": 2, "columnPadding": 5, "rowPadding": 0}},
           "strokeDash": {"field": "word", "type": "nominal",
             "scale": {"domain": ["LEIGH","NIna","MaRIE","MElanie","RaMOna","Leigh","Nina","Marie","Melanie","Ramona"],
                       "range": [[2,1.3],[2,1.3],[2,1.3],[2,1.3],[2,1.3],[1,0],[1,0],[1,0],[1,0],[1,0]]},
             "legend": {"title": null, "orient": "none", "legendX": 100, "legendY": 815, "columns": 5, "direction": "horizontal", "symbolType": "stroke", "symbolSize": 484, "symbolStrokeWidth": 1.8, "labelFontSize": 10.5, "labelColor": "#222", "labelOffset": 2, "columnPadding": 5, "rowPadding": 0}},
           "strokeWidth": {"field": "word", "type": "nominal",
             "scale": {"domain": ["LEIGH","NIna","MaRIE","MElanie","RaMOna","Leigh","Nina","Marie","Melanie","Ramona"],
                       "range": [2.4,2.4,2.4,2.4,2.4,1.1,1.1,1.1,1.1,1.1]},
             "legend": null}
         }},
        {"data": {"name": "titles"}, "transform": [{"filter": "datum.panel === 'Senior'"}],
         "mark": {"type": "text", "fontSize": 14, "fontWeight": "bold", "color": "#000"},
         "encoding": {"text": {"field": "panel"}}}
      ]
    },
    {
      "width": 518, "height": 252,
      "encoding": {
        "x": {"field": "t", "type": "quantitative", "scale": {"domain": [0, 6.88], "nice": false, "zero": false},
              "axis": {"labels": false, "ticks": false, "title": "Initial Focus (normalized time)", "titleFontSize": 13, "titleFontWeight": "bold", "titleColor": "#000", "titlePadding": 13, "domainColor": "#222", "domainWidth": 2, "minExtent": 0}},
        "y": {"field": "f0", "type": "quantitative", "scale": {"domain": [50, 300], "nice": false, "zero": false},
              "axis": {"values": [50, 100, 150, 200, 250, 300], "title": null, "labelFontSize": 9, "labelColor": "#444", "tickSize": 4, "tickColor": "#333", "domainColor": "#222", "domainWidth": 1.5, "labelPadding": 1}}
      },
      "layer": [
        {"data": {"name": "bounds"}, "mark": {"type": "rule", "color": "#8a8a8a", "strokeWidth": 1.2},
         "encoding": {"y": {"datum": 50}, "y2": {"datum": 300}}},
        {"data": {"name": "syl"}, "mark": {"type": "text", "fontSize": 10.5, "color": "#3a3a3a", "baseline": "middle"},
         "encoding": {"text": {"field": "text"}}},
        {"data": {"name": "f0"}, "transform": [{"filter": "datum.panel === 'Freshman'"}],
         "mark": {"type": "line", "interpolate": "monotone", "strokeCap": "butt"},
         "encoding": {
           "color": {"field": "word", "type": "nominal", "sort": null,
             "scale": {"domain": ["LEIGH","NIna","MaRIE","MElanie","RaMOna","Leigh","Nina","Marie","Melanie","Ramona"],
                       "range": ["#3f62c6","#c23b8e","#f22a2e","#12924a","#ffa01f","#5b7ad2","#c8559c","#ef3a3c","#27994d","#ffa638"]},
             "legend": {"title": null, "orient": "none", "legendX": 100, "legendY": 815, "columns": 5, "direction": "horizontal", "symbolType": "stroke", "symbolSize": 484, "symbolStrokeWidth": 1.8, "labelFontSize": 10.5, "labelColor": "#222", "labelOffset": 2, "columnPadding": 5, "rowPadding": 0}},
           "strokeDash": {"field": "word", "type": "nominal",
             "scale": {"domain": ["LEIGH","NIna","MaRIE","MElanie","RaMOna","Leigh","Nina","Marie","Melanie","Ramona"],
                       "range": [[2,1.3],[2,1.3],[2,1.3],[2,1.3],[2,1.3],[1,0],[1,0],[1,0],[1,0],[1,0]]},
             "legend": {"title": null, "orient": "none", "legendX": 100, "legendY": 815, "columns": 5, "direction": "horizontal", "symbolType": "stroke", "symbolSize": 484, "symbolStrokeWidth": 1.8, "labelFontSize": 10.5, "labelColor": "#222", "labelOffset": 2, "columnPadding": 5, "rowPadding": 0}},
           "strokeWidth": {"field": "word", "type": "nominal",
             "scale": {"domain": ["LEIGH","NIna","MaRIE","MElanie","RaMOna","Leigh","Nina","Marie","Melanie","Ramona"],
                       "range": [2.4,2.4,2.4,2.4,2.4,1.1,1.1,1.1,1.1,1.1]},
             "legend": null}
         }},
        {"data": {"name": "titles"}, "transform": [{"filter": "datum.panel === 'Freshman'"}],
         "mark": {"type": "text", "fontSize": 14, "fontWeight": "bold", "color": "#000"},
         "encoding": {"text": {"field": "panel"}}}
      ]
    }
  ]
}
